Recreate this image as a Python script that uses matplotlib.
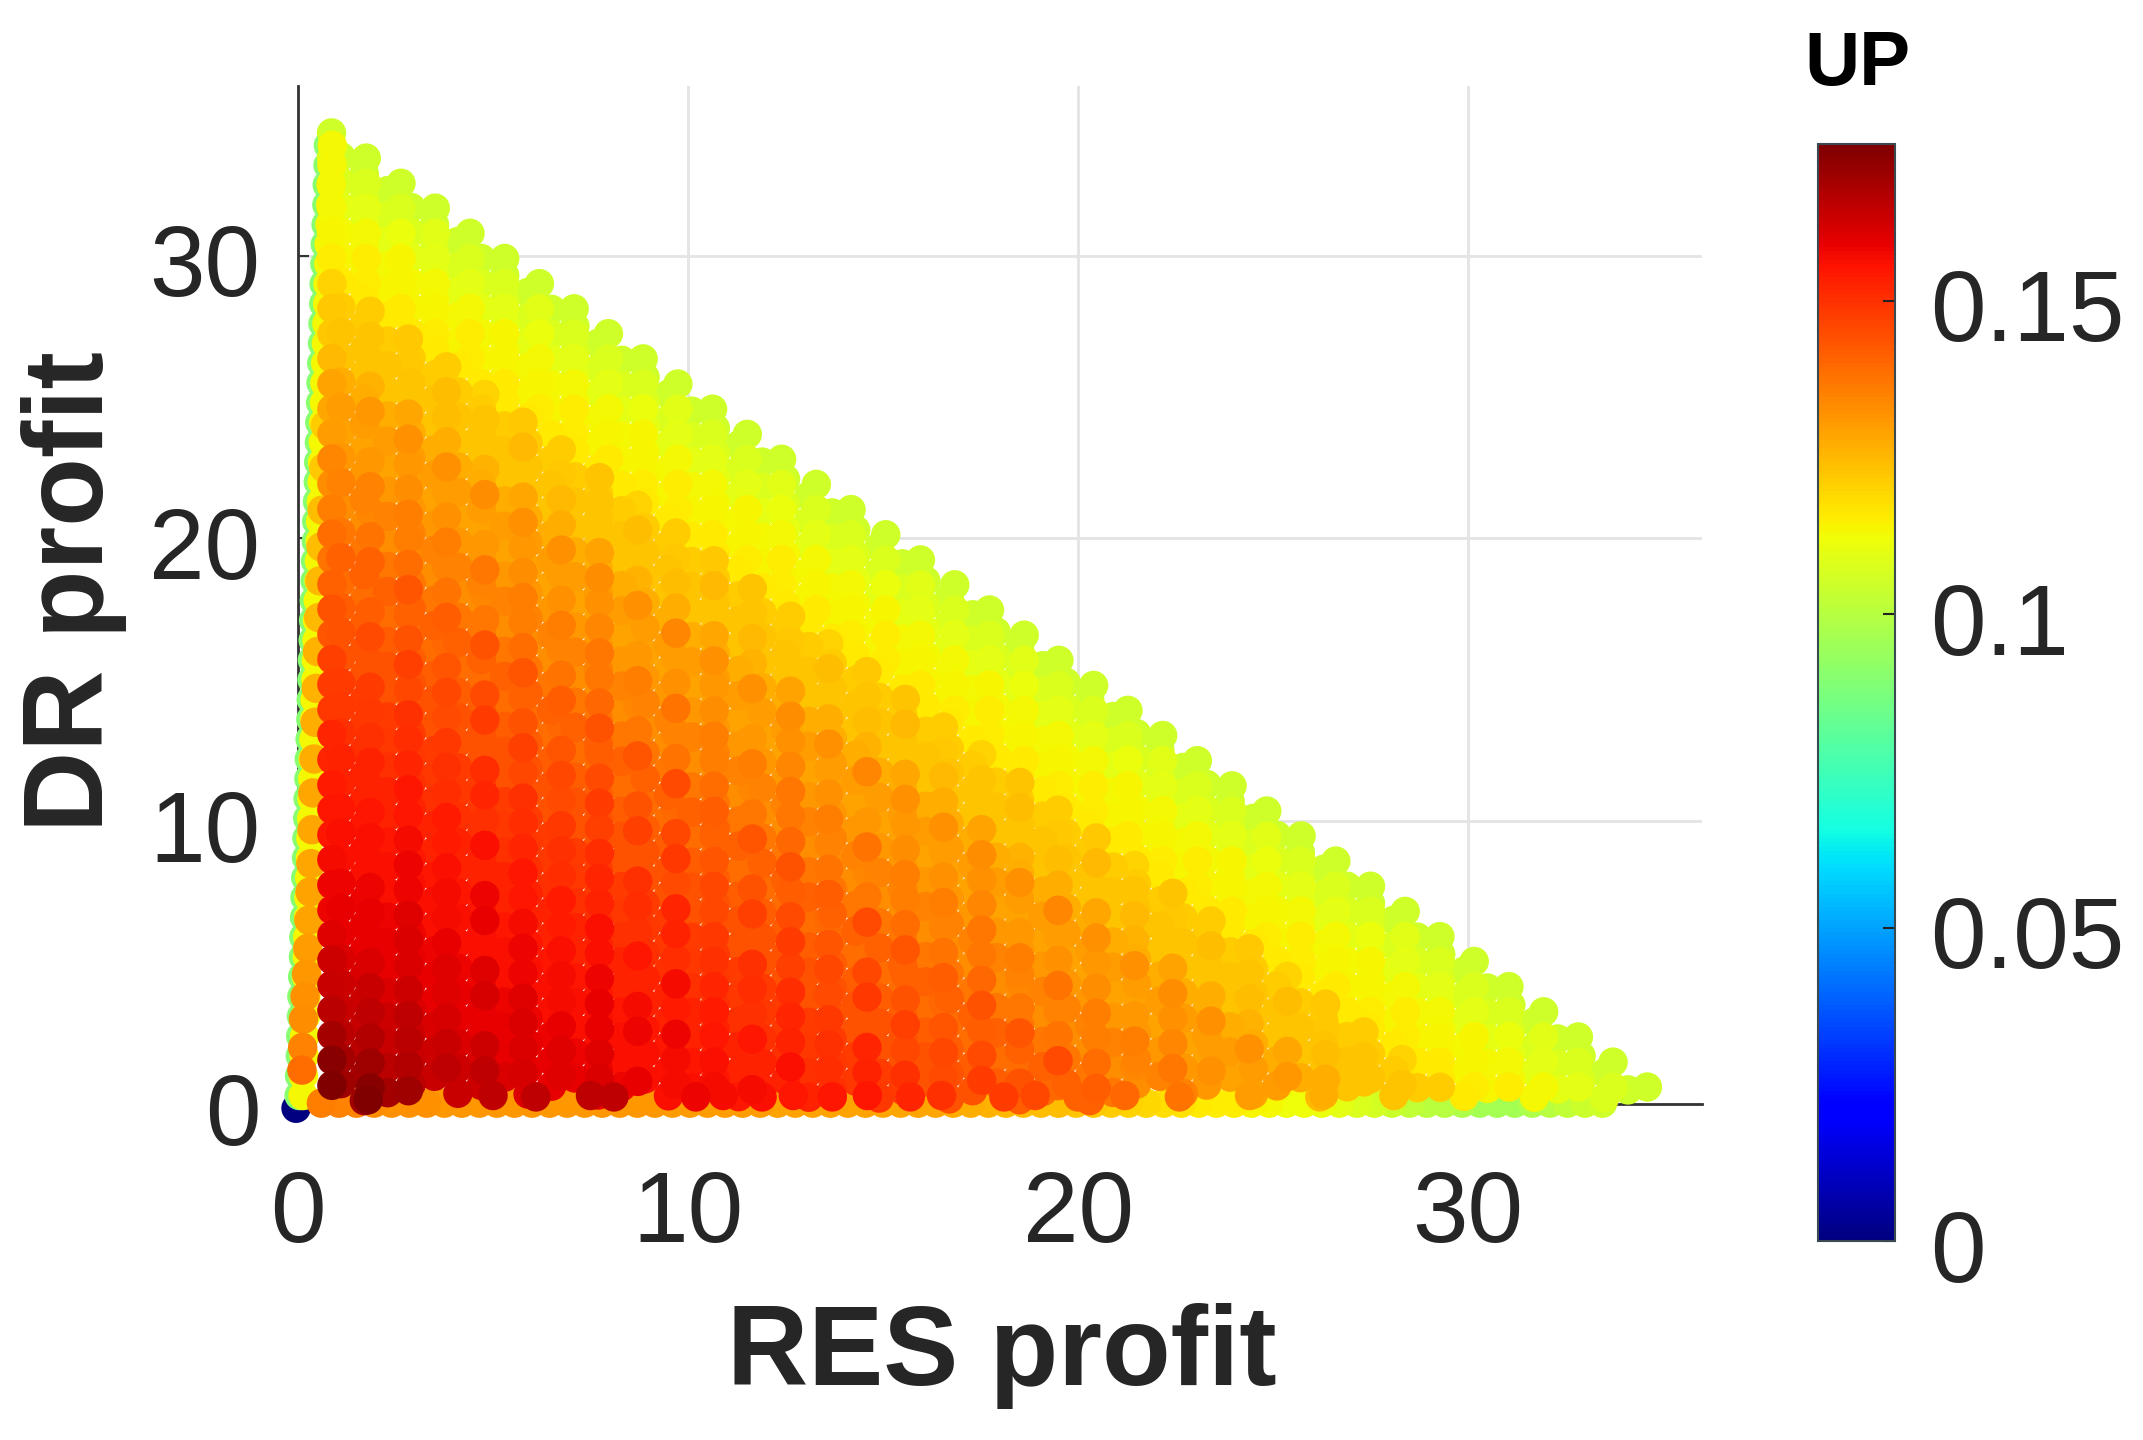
import numpy as np
import matplotlib
matplotlib.use('Agg')
import matplotlib.pyplot as plt
from matplotlib.transforms import ScaledTranslation

# RES positions of the points, outer diagonals and inner ones
res_outer = [0.86, 1.75, 2.64, 3.52, 4.41, 5.30, 6.19, 7.08, 7.96, 8.85, 9.74, 10.63, 11.52, 12.40, 13.29, 14.18, 15.07, 15.96, 16.84, 17.73,
             18.62, 19.51, 20.40, 21.28, 22.17, 23.06, 23.95, 24.84, 25.72, 26.61, 27.50, 28.39, 29.28, 30.16, 31.05, 31.94, 32.83, 33.72, 34.60]
res_inner = [0.87, 1.85, 2.83, 3.81, 4.79, 5.77, 6.75, 7.73, 8.71, 9.69, 10.67, 11.65, 12.63, 13.61, 14.59, 15.57, 16.55, 17.53, 18.51, 19.49,
             20.47, 21.45, 22.43, 23.41, 24.39, 25.37, 26.35, 27.33, 28.31, 29.29]

# RES + DR of each diagonal, outermost first
diag_sum = [35.2, 34.31, 33.43, 32.54, 31.65, 30.77, 29.88, 29.0, 28.11, 27.23, 26.34, 25.45, 24.57, 23.68, 22.8, 21.91, 21.02, 20.14, 19.25,
            18.37, 17.48, 16.59, 15.71, 14.82, 13.94, 13.05, 12.16, 11.28, 10.39, 9.51, 8.62, 7.73, 6.85, 5.96, 5.08, 4.19, 3.3, 2.42, 1.53]

# UP x 1000, one list per diagonal, from the left end
up_diag = [
    [105,105,105,105,105,105,105,105,105,105,105,105,105,105,105,105,105,105,105,105,105,105,105,105,105,105,105,105,105,105,105,105,105,105,105,105,105,105,105],
    [108,108,108,109,108,108,109,108,108,108,109,108,108,109,108,108,108,109,108,108,109,108,108,108,109,108,108,109,108,108,108,109,108,108,108,109,108,108],
    [110,110,111,110,110,110,111,110,110,111,110,110,110,111,110,110,111,110,110,110,111,110,110,111,110,110,110,111,110,110,111,110,110,110,111,110,110],
    [113,113,114,113,113,114,113,113,113,114,113,113,114,113,113,113,114,113,113,114,113,113,113,114,113,113,114,113,113,113,114,113,113,114,113,113],
    [114,115,114,114,115,114,114,115,114,114,115,114,114,115,114,114,115,114,114,115,114,114,115,114,114,115,114,114,115,114,114,115,114,114,115],
    [115,115,116,115,115,116,115,115,116,115,115,116,115,115,116,115,115,116,115,115,116,115,115,116,115,115,116,115,115,116,115,115,116,115],
    [120,121,122,121,120,122,121,123,120,121,122,123,121,120,122,123,121,120,123,121,122,120,123,121,122,120,122,121,120,121],
    [122,123,122,124,123,125,122,123,124,122,125,123,122,124,123,125,122,123,124,122,125,123,122,124,123,124,122,123,123],
    [122,123,122,124,123,122,125,123,122,124,123,125,122,123,124,122,125,123,122,124,123,125,122,123,124,122,124,123],
    [125,126,128,127,126,128,127,129,126,127,128,126,129,127,126,128,127,129,126,127,128,126,129,127,126,128,127],
    [129,131,132,132,133,132,132,133,132,134,132,132,133,132,134,132,132,133,132,134,132,132,133,132,132,131],
    [128,129,131,130,129,131,130,132,129,130,131,129,132,130,129,131,130,132,129,130,131,129,132,130,129],
    [130,131,133,132,131,133,132,134,131,132,133,131,134,132,131,133,132,134,131,132,133,131,134,132],
    [134,135,136,136,137,136,136,137,136,138,136,136,137,136,138,136,136,137,136,138,136,136,137],
    [133,134,136,135,134,136,135,137,134,135,136,134,137,135,134,136,135,137,134,135,136,134],
    [136,138,139,138,137,139,138,140,137,138,139,137,140,138,137,139,138,140,137,138,139],
    [139,141,143,142,144,143,142,144,143,145,142,143,144,142,145,143,142,144,143,145,142],
    [138,139,141,140,139,141,140,142,139,140,141,139,142,140,139,141,140,142,139,140],
    [141,142,144,143,145,144,143,145,144,146,143,144,145,143,146,144,143,145,144],
    [144,145,147,146,148,147,146,148,147,149,146,147,148,146,149,147,146,148],
    [143,144,146,145,144,146,145,147,144,145,146,144,147,145,144,146,145],
    [147,148,150,149,151,150,149,151,150,152,149,150,151,149,152,150],
    [148,149,151,150,152,151,150,152,151,153,150,151,152,150,153],
    [149,150,152,151,150,152,151,153,150,151,152,150,153,151],
    [152,153,155,154,156,155,154,156,155,157,154,155,156],
    [152,153,155,154,153,155,154,156,153,154,155,153],
    [154,155,157,156,158,157,156,158,157,158,156,157],
    [155,156,158,157,159,158,157,159,158,157,157],
    [155,156,158,157,156,158,157,159,156,157],
    [157,158,160,159,160,160,159,160,159],
    [158,159,161,160,162,161,160,161],
    [158,159,161,160,159,161,160],
    [160,161,163,162,163,162],
    [163,164,165,164,165],
    [164,165,166,165],
    [166,167,167],
    [169,170,170],
    [173,173],
    [175],
]

# lower points filling the space between the columns
under_res = [1.10, 1.70, 2.30, 2.90, 3.50, 4.10, 4.70, 5.30, 5.90, 6.50, 7.10, 7.70, 8.30, 8.90, 9.50, 10.10, 10.70, 11.30, 11.90,
             12.50, 13.10, 13.70, 14.30, 14.90, 15.50, 16.10, 16.70, 17.30, 17.90, 18.50, 19.10, 19.70, 20.30, 20.90, 21.50, 22.10, 22.70, 23.30, 23.90,
             24.50, 25.10, 25.70, 26.30, 26.90, 27.50, 28.10, 28.70, 29.30, 29.90, 30.50, 31.10, 31.70, 32.30, 32.90, 33.50, 34.10]
under_level = [105, 108, 110, 113, 114, 116, 121, 123, 123, 127, 130, 129, 131, 135, 133, 137, 141, 139, 142, 144, 144, 148, 149, 150, 153, 153, 155, 156,
               156, 158, 159, 159, 161, 163, 164, 166, 169, 170, 170]

# fan of low points along the DR axis
fan_dr = [0.3, 1.0, 1.7, 2.4, 3.1, 3.8, 4.5, 5.2, 5.9, 6.6, 7.3, 8.0, 8.7, 9.4, 10.1, 10.8, 11.5, 12.2, 12.9, 13.6, 14.3, 15.0, 15.7, 16.4, 17.1, 17.8,
          18.5, 19.2, 19.9, 20.6, 21.3, 22.0, 22.7, 23.4, 24.1, 24.8, 25.5, 26.2, 26.9, 27.6, 28.3, 29.0, 29.7, 30.4, 31.1, 31.8, 32.5, 33.2, 33.9]
fan_green_res = [0.03, 0.04, 0.06, 0.07, 0.09, 0.10, 0.12, 0.14, 0.15, 0.17, 0.18, 0.20, 0.22, 0.23, 0.25, 0.26, 0.28, 0.29, 0.31, 0.33, 0.34, 0.36, 0.37, 0.39, 0.40,
                 0.42, 0.44, 0.45, 0.47, 0.48, 0.50, 0.52, 0.53, 0.55, 0.56, 0.58, 0.59, 0.61, 0.63, 0.64, 0.66, 0.67, 0.69, 0.70, 0.72, 0.74, 0.75, 0.77, 0.78]
fan_yellow_res = [0.13, 0.14, 0.16, 0.17, 0.19, 0.20, 0.22, 0.24, 0.25, 0.27, 0.28, 0.30, 0.32, 0.33, 0.35, 0.36, 0.38, 0.39, 0.41, 0.43, 0.44, 0.46, 0.47, 0.49, 0.50,
                  0.52, 0.54, 0.55, 0.57, 0.58, 0.60, 0.62, 0.63, 0.65, 0.66, 0.68, 0.69, 0.71, 0.73, 0.74, 0.76, 0.77, 0.79, 0.80, 0.82, 0.84, 0.85, 0.87, 0.88]
fan_orange_dr = [1.2, 2.0, 3.0, 3.8, 4.6, 5.5, 6.5, 7.5, 8.5, 9.7, 11.0, 12.2, 13.5, 14.7, 16.0, 17.2, 18.5, 19.7, 21.0, 22.5, 24.0]
fan_orange_res = [0.10, 0.12, 0.14, 0.18, 0.22, 0.25, 0.28, 0.31, 0.33, 0.36, 0.38, 0.41, 0.44, 0.47, 0.50, 0.53, 0.56, 0.59, 0.62, 0.66, 0.70]
fan_orange_up = [139, 135, 133, 132, 131, 130, 129, 129, 128, 128, 128, 127, 127, 126, 126, 125, 125, 124, 124, 122, 121]
fan_green_up = 90
fan_yellow_up = 113

# rows lying along the RES axis
row_res = [0.6, 1.05, 1.5, 1.95, 2.4, 2.85, 3.3, 3.75, 4.2, 4.65, 5.1, 5.55, 6.0, 6.45, 6.9, 7.35, 7.8, 8.25, 8.7, 9.15, 9.6, 10.05, 10.5, 10.95, 11.4, 11.85, 12.3, 12.75,
           13.2, 13.65, 14.1, 14.55, 15.0, 15.45, 15.9, 16.35, 16.8, 17.25, 17.7, 18.15, 18.6, 19.05, 19.5, 19.95, 20.4, 20.85, 21.3, 21.75, 22.2, 22.65, 23.1, 23.55,
           24.0, 24.45, 24.9, 25.35, 25.8, 26.25, 26.7, 27.15, 27.6, 28.05, 28.5, 28.95, 29.4, 29.85, 30.3, 30.75, 31.2, 31.65, 32.1, 32.55, 33.0, 33.45]
row_up = [136, 135, 134, 133, 132, 132, 132, 131, 131, 131, 131, 131, 131, 131, 131, 131, 131, 131, 131, 131, 130, 130, 130, 130, 130, 130, 129, 129,
          129, 129, 129, 129, 128, 128, 128, 128, 127, 127, 126, 125, 124, 124, 124, 123, 122, 121, 120, 119, 118, 117, 116, 115,
          115, 114, 113, 112, 112, 111, 110, 108, 106, 104, 102, 101, 100, 98, 96, 96, 96, 98, 100, 102, 104, 105]
row_dr_level = 0.03

# darker blobs just above that row
blob_res = [1.8, 5.0, 6.1, 7.5, 8.1, 10.2, 10.9, 11.9, 12.7, 13.7, 14.6, 15.7, 16.5, 18.1, 18.9, 20.0, 21.2, 22.6, 24.4, 26.2]
blob_dr = [0.15, 0.30, 0.25, 0.30, 0.25, 0.25, 0.30, 0.25, 0.30, 0.25, 0.30, 0.25, 0.30, 0.25, 0.30, 0.25, 0.30, 0.25, 0.30, 0.25]
blob_up = [175, 165, 165, 165, 165, 158, 157, 156, 155, 155, 155, 152, 150, 148, 146, 141, 140, 138, 130, 125]

origin_res = [-0.05]
origin_dr = [-0.15]
origin_up = [0]

# colorbar and axis ticks
x_ticks = [0, 10, 20, 30]
y_ticks = [0, 10, 20, 30]
cb_ticks = [0, 0.05, 0.1, 0.15]
cb_labels = ['0', '0.05', '0.1', '0.15']

plt.rcParams['font.family'] = ['Liberation Sans', 'DejaVu Sans']
W, H = 2143, 1440
TXT = '#262626'

xs, ys, ups = [], [], []
for d, vals in enumerate(up_diag):
    grid = res_outer if d < 6 else res_inner
    for k, v in enumerate(vals):
        xs.append(grid[k])
        ys.append(diag_sum[d] - grid[k])
        ups.append(v)

# under layer, one UP level per diagonal
for d, level in enumerate(under_level):
    s = diag_sum[d] - 0.6
    for x in under_res:
        if s - x > 0.1:
            xs.append(x)
            ys.append(s - x)
            ups.append(level)

xs += fan_green_res + fan_yellow_res + fan_orange_res + row_res + blob_res + origin_res
ys += fan_dr + fan_dr + fan_orange_dr + [row_dr_level] * len(row_res) + blob_dr + origin_dr
ups += [fan_green_up] * len(fan_dr) + [fan_yellow_up] * len(fan_dr) + fan_orange_up + row_up + blob_up + origin_up

xs = np.array(xs)
ys = np.array(ys)
up = np.array(ups) / 1000.0
order = np.argsort(up, kind='stable')

fig = plt.figure(figsize=(W / 100, H / 100), dpi=100)
ax = fig.add_axes([298 / W, 1 - 1104 / H, 1404 / W, 1018 / H])
ax.set_xlim(0, 36)
ax.set_ylim(0, 36)

sc = ax.scatter(xs[order], ys[order], c=up[order], s=450, cmap='jet', vmin=0, vmax=0.175,
                linewidths=0, clip_on=False, zorder=3)

ax.grid(True, color='#e4e4e4', lw=2)
ax.set_axisbelow(True)
for side in ['top', 'right']:
    ax.spines[side].set_visible(False)
for side in ['left', 'bottom']:
    ax.spines[side].set_linewidth(2)
    ax.spines[side].set_color('#333333')
    ax.spines[side].set_zorder(2)

ax.set_xticks(x_ticks)
ax.set_yticks(y_ticks)
ax.tick_params(axis='x', direction='in', length=8, width=1.5, color='#333333', labelsize=72, labelcolor=TXT, pad=47)
ax.tick_params(axis='y', direction='in', length=8, width=1.5, color='#333333', labelsize=72, labelcolor=TXT, pad=27)
shift = ScaledTranslation(0, -3 / 72, fig.dpi_scale_trans)
for lbl in ax.get_yticklabels():
    lbl.set_transform(lbl.get_transform() + shift)

fig.text(733 * 1.3667 / W, 1 - 992 * 1.3667 / H, 'RES profit', fontsize=81, fontweight='bold', color=TXT, ha='center', va='center')
fig.text(54 * 1.3667 / W, 1 - 433 * 1.3667 / H, 'DR profit', fontsize=81, fontweight='bold', color=TXT, ha='center', va='center', rotation=90)

cax = fig.add_axes([1818 / W, 1 - 1241 / H, 77 / W, 1097 / H])
cb = fig.colorbar(sc, cax=cax)
cb.set_ticks(cb_ticks)
cb.set_ticklabels(cb_labels)
cax.tick_params(direction='in', length=9, width=1.5, color='#222222', labelsize=72, labelcolor=TXT, pad=25)
cb.outline.set_linewidth(1.5)
cb.outline.set_edgecolor('#3a4a50')
for lbl in cax.get_yticklabels():
    lbl.set_transform(lbl.get_transform() + shift)

fig.text(1857 / W, 1 - 65 / H, 'UP', fontsize=55, fontweight='bold', color='black', ha='center', va='center')

fig.savefig('out.png', dpi=100)
